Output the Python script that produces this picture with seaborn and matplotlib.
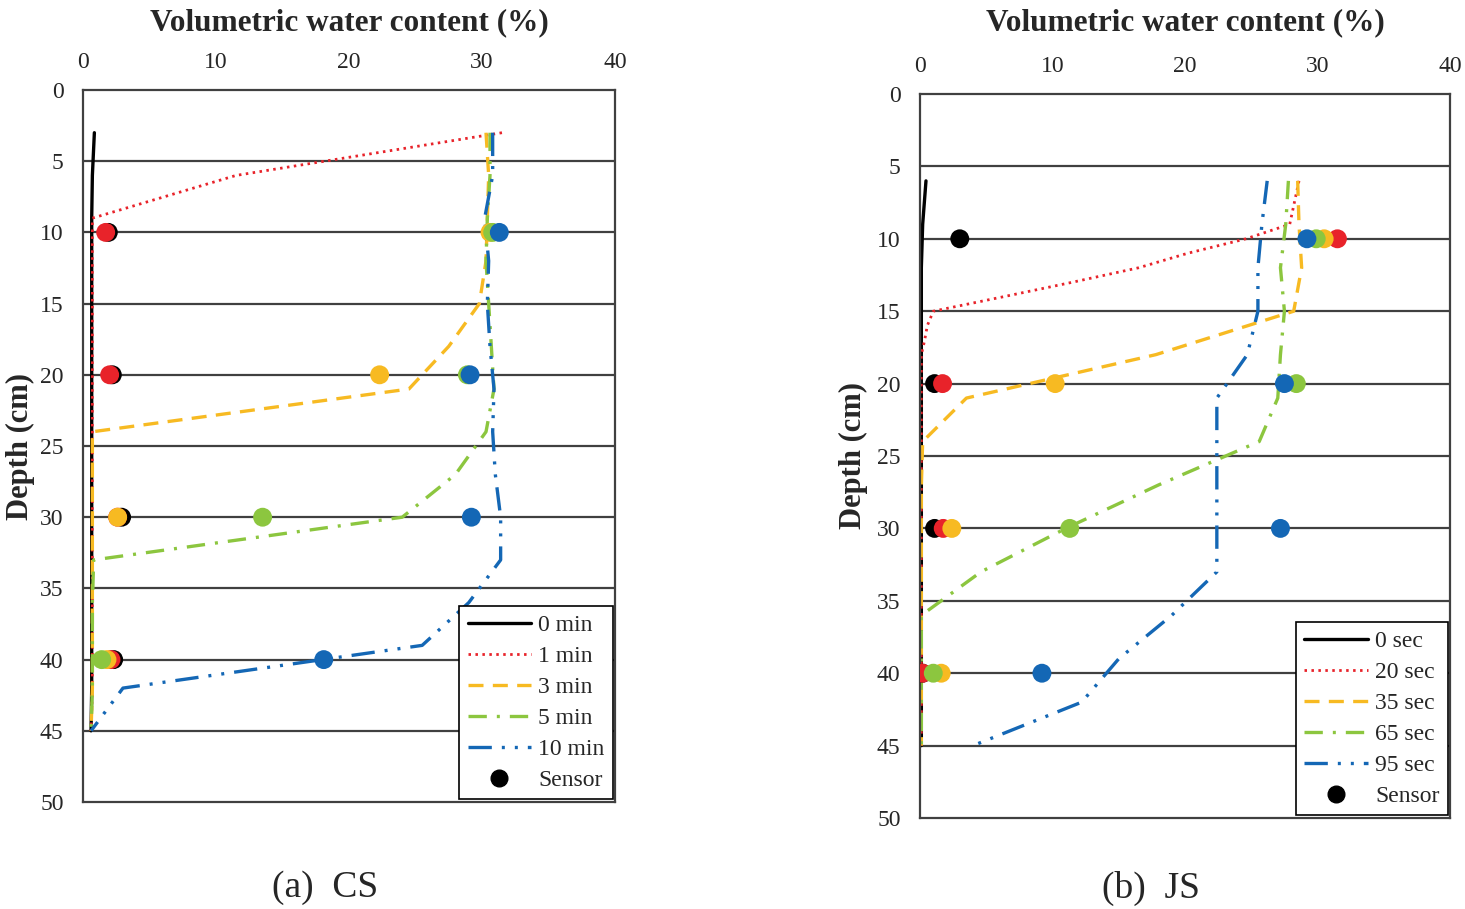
import numpy as np
import pandas as pd
import matplotlib
matplotlib.use("Agg")
import matplotlib.pyplot as plt
from matplotlib.lines import Line2D
import seaborn as sns

sns.set_style("white")
plt.rcParams['font.family'] = ['Liberation Serif', 'DejaVu Serif']

# ---------------- data: (a) CS, times in min ----------------
cs_labels = ["0 min", "1 min", "3 min", "5 min", "10 min"]
cs_depth = [3, 6, 9, 12, 15, 18, 21, 24, 27, 30, 33, 36, 39, 42, 45]
cs_0 = [0.85, 0.7, 0.65, 0.65, 0.65, 0.65, 0.65, 0.65, 0.65, 0.65, 0.65, 0.65, 0.65, 0.65, 0.6]
cs_1 = [31.5, 11.5, 0.7, 0.7, 0.7, 0.7, 0.7, 0.7, 0.7, 0.7, 0.7, 0.7, 0.7, 0.7, 0.6]
cs_3 = [30.3, 30.5, 30.4, 30.3, 29.8, 27.5, 24.5, 0.7, 0.7, 0.7, 0.7, 0.7, 0.7, 0.7, 0.6]
cs_5 = [30.6, 30.6, 30.4, 30.3, 30.5, 30.7, 30.9, 30.3, 28.0, 24.0, 0.8, 0.7, 0.7, 0.7, 0.6]
cs_10 = [30.8, 30.8, 30.2, 30.5, 30.4, 30.6, 30.9, 30.8, 31.0, 31.4, 31.4, 29.0, 25.5, 3.0, 0.6]

sensor_depth = [10, 20, 30, 40]
cs_s0 = [1.9, 2.2, 2.9, 2.3]
cs_s1 = [1.7, 2.0, 2.6, 2.1]
cs_s3 = [30.6, 22.3, 2.6, 1.8]
cs_s5 = [30.8, 28.9, 13.5, 1.4]
cs_s10 = [31.3, 29.1, 29.2, 18.1]

# ---------------- data: (b) JS, times in sec ----------------
js_labels = ["0 sec", "20 sec", "35 sec", "65 sec", "95 sec"]
js_d0 = [6, 9, 12, 15, 18, 21, 24, 27, 30, 33, 36, 39, 42, 45]
js_0 = [0.45, 0.2, 0.1, 0.1, 0.1, 0.1, 0.1, 0.1, 0.1, 0.1, 0.1, 0.1, 0.1, 0.1]
js_d20 = [6, 9, 10, 11, 12, 13, 14, 15, 16, 17, 18, 21, 24, 27, 30, 33, 36, 39, 42, 45]
js_20 = [28.6, 27.9, 24.6, 20.2, 16.5, 11.5, 6.3, 1.0, 0.55, 0.35, 0.1,
         0.1, 0.1, 0.1, 0.1, 0.1, 0.1, 0.1, 0.1, 0.1]
js_d = [6, 9, 12, 15, 18, 21, 24, 27, 30, 33, 36, 39, 42, 45]
js_35 = [28.5, 28.6, 28.8, 28.2, 17.8, 3.5, 0.2, 0.1, 0.1, 0.1, 0.1, 0.1, 0.1, 0.1]
js_65 = [27.8, 27.6, 27.2, 27.5, 27.2, 27.0, 25.6, 18.0, 11.0, 4.6, 0.1, 0.1, 0.1, 0.1]
js_95 = [26.2, 25.8, 25.5, 25.5, 24.7, 22.4, 22.4, 22.4, 22.4, 22.4, 19.0, 15.0, 12.2, 4.0]

js_s0 = [3.0, 1.1, 1.1, 0.2]
js_s20 = [31.5, 1.7, 1.75, 0.2]
js_s35 = [30.5, 10.2, 2.4, 1.6]
js_s65 = [29.9, 28.4, 11.3, 1.0]
js_s95 = [29.2, 27.5, 27.2, 9.2]

colors = ["black", "#E8232A", "#F7BA22", "#8CC63F", "#1467B5"]
dashes = ["-", (0, (0.9, 1.6)), (0, (4.5, 2.8)), (0, (5.5, 3, 0.9, 3)),
          (0, (7, 3, 0.9, 3, 0.9, 3))]
widths = [2.4, 2.0, 2.4, 2.4, 2.4]

GRID = "#404040"


def draw_panel(ax, lines, sensors, labels, title_pad, ylab_x):
    for (dep, vals), col, ls, lw in zip(lines, colors, dashes, widths):
        df = pd.DataFrame({"vwc": vals, "depth": dep})
        sns.lineplot(data=df, x="vwc", y="depth", sort=False, estimator=None,
                     color=col, linewidth=lw, ax=ax)
        ax.lines[-1].set_linestyle(ls)
        ax.lines[-1].set_dash_capstyle("butt")
    for vals, col in zip(sensors, colors):
        sdf = pd.DataFrame({"vwc": vals, "depth": sensor_depth})
        sns.scatterplot(data=sdf, x="vwc", y="depth", color=col, s=185,
                        edgecolor="none", ax=ax, zorder=5)

    ax.set_xlim(0, 40)
    ax.set_ylim(50, 0)
    ax.set_xticks([0, 10, 20, 30, 40])
    ax.set_yticks(range(0, 55, 5))
    ax.xaxis.tick_top()
    ax.xaxis.set_label_position("top")
    ax.tick_params(axis="x", length=0, labelsize=17, pad=12)
    ax.tick_params(axis="y", length=0, labelsize=17, pad=14)
    for y in range(5, 50, 5):
        ax.axhline(y, color=GRID, lw=1.6, zorder=1)
    for sp in ax.spines.values():
        sp.set_color(GRID)
        sp.set_linewidth(1.6)
    ax.set_xlabel("Volumetric water content (%)", fontsize=22.5, fontweight="bold",
                  labelpad=title_pad)
    ax.set_ylabel("Depth (cm)", fontsize=22, fontweight="bold")
    ax.yaxis.label.set_va("center")
    ax.yaxis.set_label_coords(ylab_x, 0.5)

    handles = [Line2D([0], [0], color=c, ls=l, lw=w)
               for c, l, w in zip(colors, dashes, widths)]
    handles.append(Line2D([0], [0], color="black", marker="o", ls="none",
                          markersize=12))
    leg = ax.legend(handles, labels + ["Sensor"], loc="lower right",
                    bbox_to_anchor=(0.996, 0.004), fontsize=17, frameon=True,
                    fancybox=False, edgecolor="black", framealpha=1,
                    handlelength=2.7, handletextpad=0.3, labelspacing=0.40,
                    borderpad=0.35, borderaxespad=0.0)
    leg.get_frame().set_linewidth(1.2)


fig = plt.figure(figsize=(14.65, 9.09), dpi=100)
ax1 = fig.add_axes([0.0567, 0.1177, 0.3631, 0.7833])
ax2 = fig.add_axes([0.628, 0.1001, 0.3618, 0.7965])

draw_panel(ax1,
           [(cs_depth, cs_0), (cs_depth, cs_1), (cs_depth, cs_3),
            (cs_depth, cs_5), (cs_depth, cs_10)],
           [cs_s0, cs_s1, cs_s3, cs_s5, cs_s10], cs_labels, 16, -0.117)
draw_panel(ax2,
           [(js_d0, js_0), (js_d20, js_20), (js_d, js_35),
            (js_d, js_65), (js_d, js_95)],
           [js_s0, js_s20, js_s35, js_s65, js_s95], js_labels, 19, -0.125)

fig.text(0.222, 0.023, "(a)  CS", fontsize=27, ha="center", va="center")
fig.text(0.786, 0.023, "(b)  JS", fontsize=27, ha="center", va="center")

fig.savefig("out.png", dpi=100, facecolor="white")
